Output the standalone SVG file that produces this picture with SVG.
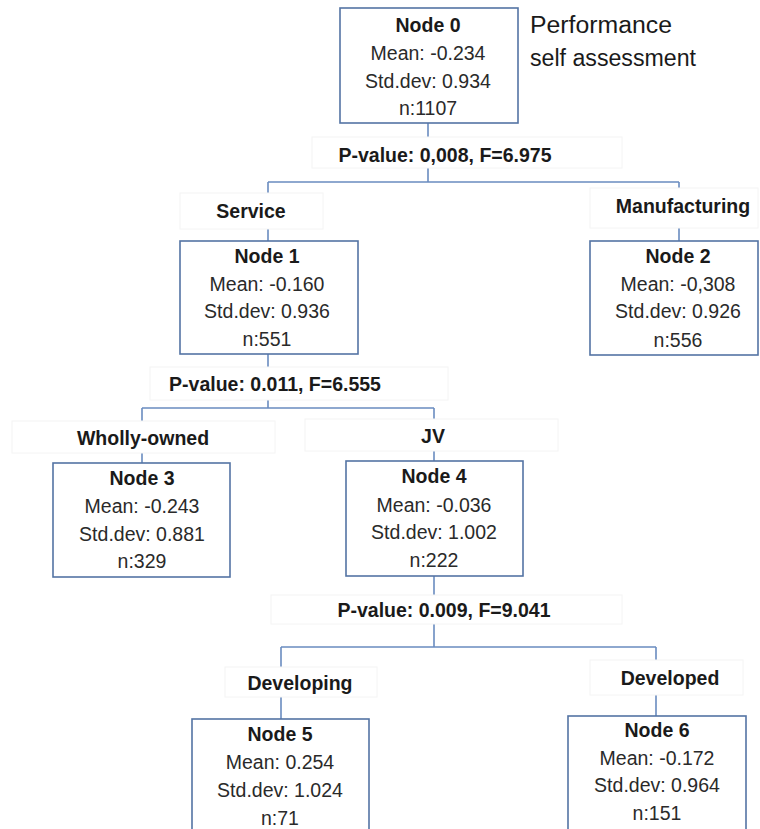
<svg xmlns="http://www.w3.org/2000/svg" width="760" height="829" viewBox="0 0 760 829">
<style>
.box{fill:#fff;stroke:#5474a4;stroke-width:1.6}
.lbl{fill:#fff;stroke:#f4f4f4;stroke-width:1}
.con{fill:none;stroke:#6a8cc0;stroke-width:1.6}
.t{font-family:"Liberation Sans",Arial,sans-serif;font-size:19.5px;fill:#2a2a2a;text-anchor:middle}
.b{font-family:"Liberation Sans",Arial,sans-serif;font-size:19.5px;font-weight:bold;fill:#1a1a1a;text-anchor:middle}
.title{font-family:"Liberation Sans",Arial,sans-serif;font-size:23.5px;fill:#1a1a1a}
</style>
<rect width="760" height="829" fill="#fff"/>
<g id="connectors">
<path class="con" d="M428,123V137M428,168V182M268,182H679M268,182V194M268,229V241M679,182V188M679,228V241"/>
<path class="con" d="M268,354V367M268,400V408M142,408H434M142,408V421M142,453V463M434,408V419M434,451V461"/>
<path class="con" d="M434,576V595M434,624V647M281,647H656M281,647V667M281,697V719M656,647V660M656,695V716"/>
</g>
<g id="title">
<text class="title" x="530" y="33" textLength="142" lengthAdjust="spacingAndGlyphs">Performance</text>
<text class="title" x="530" y="66" textLength="166" lengthAdjust="spacingAndGlyphs">self assessment</text>
</g>
<g id="split0">
<rect class="lbl" x="312" y="137" width="310" height="31"/>
<text class="b" x="445" y="162">P-value: 0,008, F=6.975</text>
</g>
<g id="label-service">
<rect class="lbl" x="180" y="193" width="143" height="36"/>
<text class="b" x="251" y="218">Service</text>
</g>
<g id="label-manufacturing">
<rect class="lbl" x="590" y="188" width="168" height="40"/>
<text class="b" x="683" y="213">Manufacturing</text>
</g>
<g id="split1">
<rect class="lbl" x="150" y="367" width="298" height="33"/>
<text class="b" x="275" y="391">P-value: 0.011, F=6.555</text>
</g>
<g id="label-wholly">
<rect class="lbl" x="12" y="421" width="263" height="32"/>
<text class="b" x="143" y="445">Wholly-owned</text>
</g>
<g id="label-jv">
<rect class="lbl" x="305" y="419" width="253" height="32"/>
<text class="b" x="433" y="443">JV</text>
</g>
<g id="split4">
<rect class="lbl" x="271" y="595" width="351" height="29"/>
<text class="b" x="444" y="617">P-value: 0.009, F=9.041</text>
</g>
<g id="label-developing">
<rect class="lbl" x="225" y="667" width="152" height="30"/>
<text class="b" x="300" y="690">Developing</text>
</g>
<g id="label-developed">
<rect class="lbl" x="590" y="660" width="153" height="35"/>
<text class="b" x="670" y="685">Developed</text>
</g>
<g id="node0">
<rect class="box" x="340" y="8" width="178" height="115"/>
<text class="b" x="428" y="32">Node 0</text>
<text class="t" x="428" y="60">Mean: -0.234</text>
<text class="t" x="428" y="88">Std.dev: 0.934</text>
<text class="t" x="428" y="115">n:1107</text>
</g>
<g id="node1">
<rect class="box" x="180" y="241" width="178" height="113"/>
<text class="b" x="267" y="263">Node 1</text>
<text class="t" x="267" y="291">Mean: -0.160</text>
<text class="t" x="267" y="318">Std.dev: 0.936</text>
<text class="t" x="267" y="346">n:551</text>
</g>
<g id="node2">
<rect class="box" x="590" y="241" width="168" height="114"/>
<text class="b" x="678" y="263">Node 2</text>
<text class="t" x="678" y="291">Mean: -0,308</text>
<text class="t" x="678" y="318">Std.dev: 0.926</text>
<text class="t" x="678" y="347">n:556</text>
</g>
<g id="node3">
<rect class="box" x="53" y="463" width="177" height="114"/>
<text class="b" x="142" y="485">Node 3</text>
<text class="t" x="142" y="513">Mean: -0.243</text>
<text class="t" x="142" y="541">Std.dev: 0.881</text>
<text class="t" x="142" y="568">n:329</text>
</g>
<g id="node4">
<rect class="box" x="346" y="461" width="177" height="115"/>
<text class="b" x="434" y="483">Node 4</text>
<text class="t" x="434" y="512">Mean: -0.036</text>
<text class="t" x="434" y="539">Std.dev: 1.002</text>
<text class="t" x="434" y="567">n:222</text>
</g>
<g id="node5">
<rect class="box" x="192" y="719" width="177" height="120"/>
<text class="b" x="280" y="741">Node 5</text>
<text class="t" x="280" y="769">Mean: 0.254</text>
<text class="t" x="280" y="797">Std.dev: 1.024</text>
<text class="t" x="280" y="825">n:71</text>
</g>
<g id="node6">
<rect class="box" x="568" y="716" width="178" height="123"/>
<text class="b" x="657" y="737">Node 6</text>
<text class="t" x="657" y="765">Mean: -0.172</text>
<text class="t" x="657" y="792">Std.dev: 0.964</text>
<text class="t" x="657" y="820">n:151</text>
</g>
</svg>
